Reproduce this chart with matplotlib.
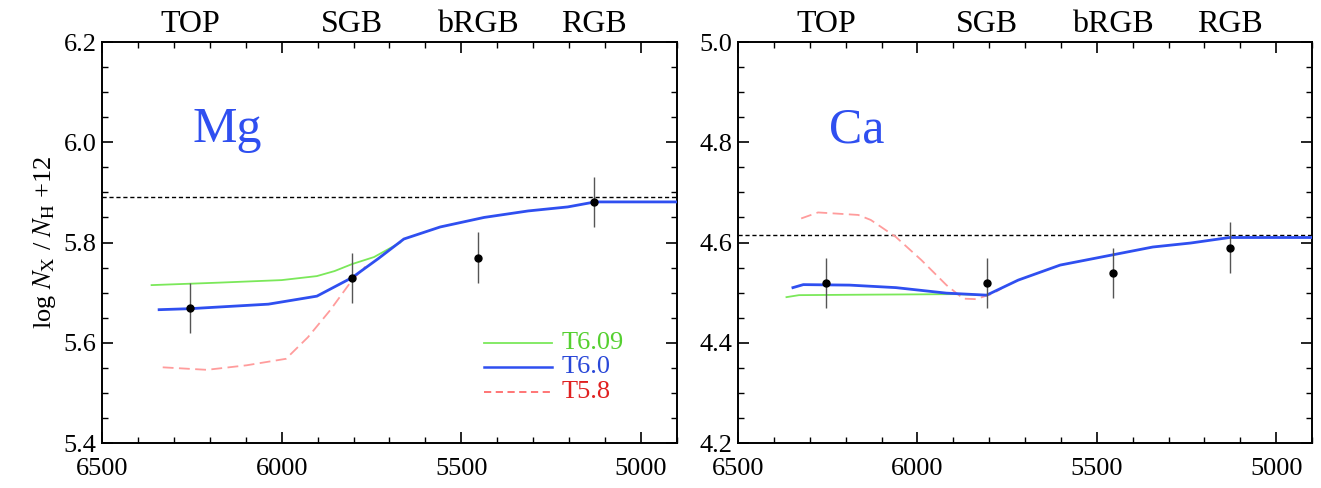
import matplotlib
matplotlib.use('Agg')
import matplotlib.pyplot as plt
import matplotlib.transforms as mtransforms

plt.rcParams['font.family'] = ['Liberation Serif', 'DejaVu Serif']
plt.rcParams['mathtext.fontset'] = 'stix'

# observed groups
stages = ['TOP', 'SGB', 'bRGB', 'RGB']
teff_obs = [6255, 5805, 5455, 5130]
mg_obs = [5.67, 5.73, 5.77, 5.88]
mg_err = [0.05, 0.05, 0.05, 0.05]
ca_obs = [4.52, 4.52, 4.54, 4.59]
ca_err = [0.05, 0.05, 0.05, 0.05]

# initial abundances
mg_init = 5.89
ca_init = 4.615

# diffusion models, Mg
mg_t609_teff = [6362, 6172, 6000, 5902, 5853, 5804, 5743, 5670]
mg_t609 = [5.715, 5.720, 5.725, 5.733, 5.743, 5.757, 5.771, 5.800]
mg_t60_teff = [6341, 6255, 6037, 5902, 5804, 5731, 5660, 5559, 5437, 5314, 5204, 5128, 4900]
mg_t60 = [5.666, 5.668, 5.677, 5.693, 5.730, 5.768, 5.807, 5.831, 5.850, 5.863, 5.871, 5.881, 5.881]
mg_t58_teff = [6331, 6208, 6098, 5988, 5927, 5865, 5804, 5767]
mg_t58 = [5.551, 5.546, 5.555, 5.568, 5.611, 5.665, 5.725, 5.752]

# diffusion models, Ca
ca_t609_teff = [6365, 6330, 6130, 5895, 5807]
ca_t609 = [4.491, 4.495, 4.496, 4.497, 4.495]
ca_t60_teff = [6347, 6318, 6189, 6060, 5919, 5807, 5719, 5602, 5473, 5344, 5238, 5130, 4900]
ca_t60 = [4.510, 4.516, 4.515, 4.510, 4.499, 4.495, 4.525, 4.555, 4.573, 4.591, 4.599, 4.610, 4.610]
ca_t58_teff = [6324, 6277, 6165, 6130, 6060, 5989, 5919, 5872, 5837, 5790, 5766]
ca_t58 = [4.648, 4.660, 4.655, 4.645, 4.611, 4.565, 4.515, 4.488, 4.487, 4.498, 4.508]

GREEN = '#7be85a'
BLUE = '#2f4ff0'
RED = '#ff9c9c'

fig = plt.figure(figsize=(13.21, 4.88), dpi=100)
ax1 = fig.add_axes([0.0772, 0.0922, 0.4353, 0.8217])
ax2 = fig.add_axes([0.5587, 0.0922, 0.4345, 0.8217])

panels = [
    (ax1, 'Mg', mg_obs, mg_err, mg_init, (5.4, 6.2), [5.4, 5.6, 5.8, 6.0, 6.2],
     (mg_t609_teff, mg_t609), (mg_t60_teff, mg_t60), (mg_t58_teff, mg_t58)),
    (ax2, 'Ca', ca_obs, ca_err, ca_init, (4.2, 5.0), [4.2, 4.4, 4.6, 4.8, 5.0],
     (ca_t609_teff, ca_t609), (ca_t60_teff, ca_t60), (ca_t58_teff, ca_t58)),
]

for ax, elem, obs, err, init, ylim, yticks, m609, m60, m58 in panels:
    ax.axhline(init, color='black', lw=1.0, ls=(0, (3, 2)), zorder=1)
    ax.plot(m58[0], m58[1], color=RED, lw=1.3, ls=(0, (6, 3)), zorder=2)
    ax.plot(m609[0], m609[1], color=GREEN, lw=1.3, zorder=3)
    ax.plot(m60[0], m60[1], color=BLUE, lw=2.0, zorder=4)
    ax.errorbar(teff_obs, obs, yerr=err, fmt='o', color='black', ms=5,
                ecolor='#555555', elinewidth=1.0, capsize=0, zorder=5)

    ax.set_xlim(6500, 4900)
    ax.set_ylim(*ylim)
    ax.set_xticks([6500, 6000, 5500, 5000])
    ax.set_xticks(range(4900, 6501, 100), minor=True)
    ax.set_yticks(yticks)
    ax.set_yticklabels(['%.1f' % v for v in yticks])
    ax.set_yticks([ylim[0] + 0.05 * i for i in range(17)], minor=True)
    ax.tick_params(which='both', direction='in', top=True, right=True, labelsize=19)
    ax.tick_params(which='major', length=8, width=1.2)
    ax.tick_params(which='minor', length=4, width=1.0)
    ax.tick_params(axis='x', pad=11)
    ax.tick_params(axis='y', pad=4)
    for sp in ax.spines.values():
        sp.set_linewidth(1.4)

    ax.text(0.158, 0.75, elem, transform=ax.transAxes, color=BLUE,
            fontsize=36, ha='left', va='baseline')

    trans = mtransforms.blended_transform_factory(ax.transData, ax.transAxes)
    for t, s in zip(teff_obs, stages):
        ax.text(t, 1.008, s, transform=trans, ha='center', va='bottom', fontsize=23)

ax1.set_ylabel(r'log $N_{\rm X}$ / $N_{\rm H}$ +12', fontsize=19, labelpad=4)

# legend drawn in the Mg panel
leg_items = [('T6.09', GREEN, '-', '#55d030', 0.25),
             ('T6.0', BLUE, '-', '#2a48d8', 0.19),
             ('T5.8', '#ff6a6a', (0, (4, 2.5)), '#e02020', 0.127)]
for label, lc, ls, tc, y in leg_items:
    ax1.plot([0.665, 0.783], [y, y], transform=ax1.transAxes, color=lc, ls=ls,
             lw=1.8 if label == 'T6.0' else 1.3)
    ax1.text(0.80, y, label, transform=ax1.transAxes, color=tc, fontsize=19,
             ha='left', va='center')

fig.savefig('out.png', dpi=100)
